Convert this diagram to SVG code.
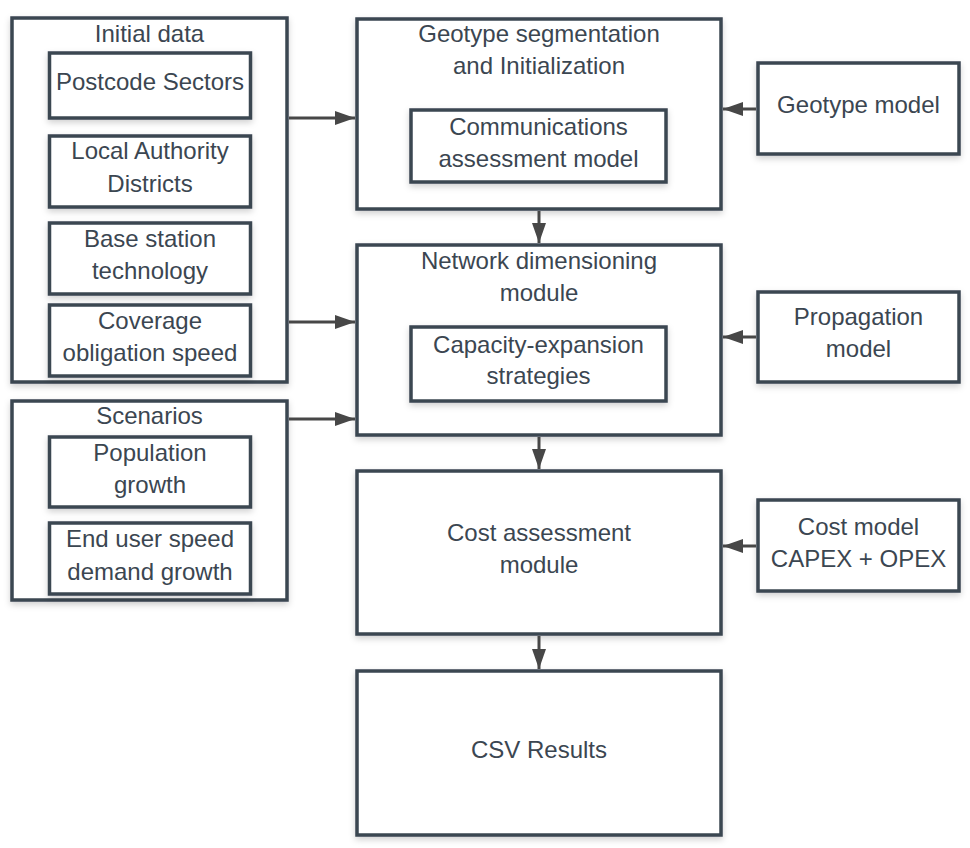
<svg xmlns="http://www.w3.org/2000/svg" width="970" height="848" viewBox="0 0 970 848">
<defs>
<filter id="sh" x="-10%" y="-10%" width="120%" height="130%">
<feDropShadow dx="0" dy="3" stdDeviation="3" flood-color="#000" flood-opacity="0.18"/>
</filter>
<marker id="ah" markerWidth="20" markerHeight="14" refX="20" refY="7" orient="auto" markerUnits="userSpaceOnUse">
<path d="M0,0 L20,7 L0,14 Z" fill="#474747"/>
</marker>
</defs>
<style>
.box{fill:#ffffff;stroke:#3b4651;stroke-width:3.5;filter:url(#sh)}
.t{font-family:"Liberation Sans",Arial,sans-serif;font-size:24px;fill:#3b4651;text-anchor:middle}
.c{stroke:#474747;stroke-width:3;fill:none;marker-end:url(#ah)}
</style>
<rect width="970" height="848" fill="#ffffff"/>

<g id="initial-data">
<rect class="box" x="12" y="18" width="275" height="364"/>
<text class="t" x="149.5" y="42">Initial data</text>
</g>
<g id="postcode-sectors">
<rect class="box" x="49.5" y="53" width="201" height="65"/>
<text class="t" x="150" y="90">Postcode Sectors</text>
</g>
<g id="local-authority">
<rect class="box" x="49.5" y="136" width="201" height="71"/>
<text class="t" x="150" y="159">Local Authority</text>
<text class="t" x="150" y="192">Districts</text>
</g>
<g id="base-station">
<rect class="box" x="49.5" y="223" width="201" height="71"/>
<text class="t" x="150" y="247">Base station</text>
<text class="t" x="150" y="279">technology</text>
</g>
<g id="coverage">
<rect class="box" x="49.5" y="305" width="201" height="71"/>
<text class="t" x="150" y="329">Coverage</text>
<text class="t" x="150" y="361">obligation speed</text>
</g>

<g id="scenarios">
<rect class="box" x="12" y="401" width="275" height="199"/>
<text class="t" x="149.5" y="424">Scenarios</text>
</g>
<g id="population-growth">
<rect class="box" x="49.5" y="437" width="201" height="70"/>
<text class="t" x="150" y="461">Population</text>
<text class="t" x="150" y="493">growth</text>
</g>
<g id="end-user">
<rect class="box" x="49.5" y="523" width="201" height="71"/>
<text class="t" x="150" y="547">End user speed</text>
<text class="t" x="150" y="580">demand growth</text>
</g>

<g id="geotype-segmentation">
<rect class="box" x="357" y="19" width="364" height="190"/>
<text class="t" x="539" y="42">Geotype segmentation</text>
<text class="t" x="539" y="74">and Initialization</text>
</g>
<g id="communications">
<rect class="box" x="411" y="110" width="255" height="72"/>
<text class="t" x="538.5" y="135">Communications</text>
<text class="t" x="538.5" y="167">assessment model</text>
</g>

<g id="network-dimensioning">
<rect class="box" x="357" y="245" width="364" height="190"/>
<text class="t" x="539" y="269">Network dimensioning</text>
<text class="t" x="539" y="301">module</text>
</g>
<g id="capacity-expansion">
<rect class="box" x="411" y="327" width="255" height="74"/>
<text class="t" x="538.5" y="353">Capacity-expansion</text>
<text class="t" x="538.5" y="384">strategies</text>
</g>

<g id="cost-assessment">
<rect class="box" x="357" y="471" width="364" height="163"/>
<text class="t" x="539" y="541">Cost assessment</text>
<text class="t" x="539" y="573">module</text>
</g>

<g id="csv-results">
<rect class="box" x="357" y="671" width="364" height="164"/>
<text class="t" x="539" y="758">CSV Results</text>
</g>

<g id="geotype-model">
<rect class="box" x="758" y="63" width="201" height="91"/>
<text class="t" x="858.5" y="113">Geotype model</text>
</g>
<g id="propagation-model">
<rect class="box" x="758" y="292" width="201" height="90"/>
<text class="t" x="858.5" y="325">Propagation</text>
<text class="t" x="858.5" y="357">model</text>
</g>
<g id="cost-model">
<rect class="box" x="758" y="500" width="201" height="91"/>
<text class="t" x="858.5" y="535">Cost model</text>
<text class="t" x="858.5" y="567">CAPEX + OPEX</text>
</g>

<g id="connectors">
<line class="c" x1="289" y1="118" x2="355" y2="118"/>
<line class="c" x1="289" y1="322" x2="355" y2="322"/>
<line class="c" x1="289" y1="419" x2="355" y2="419"/>
<line class="c" x1="756" y1="109" x2="723" y2="109"/>
<line class="c" x1="756" y1="337" x2="723" y2="337"/>
<line class="c" x1="756" y1="546" x2="723" y2="546"/>
<line class="c" x1="539" y1="211" x2="539" y2="243"/>
<line class="c" x1="539" y1="437" x2="539" y2="469"/>
<line class="c" x1="539" y1="636" x2="539" y2="669"/>
</g>
</svg>
